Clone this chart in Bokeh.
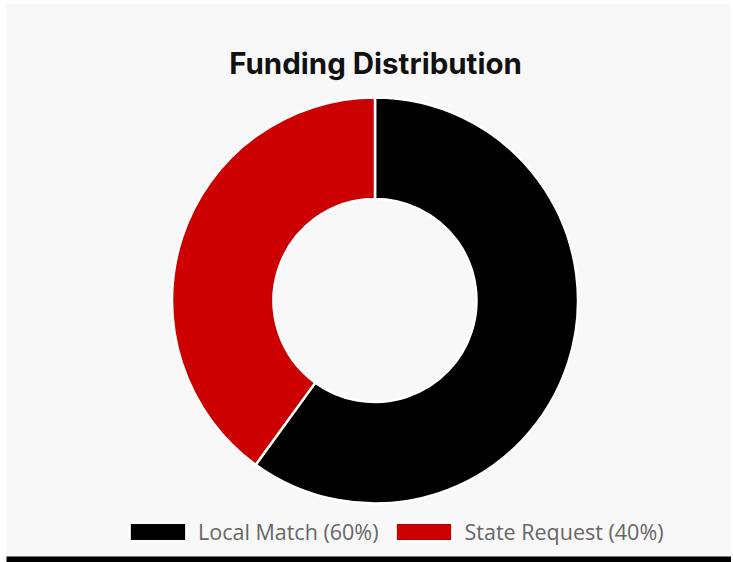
from math import pi
from bokeh.plotting import figure
from bokeh.models import ColumnDataSource, Legend, LegendItem, BoxAnnotation, Range1d
from bokeh.core.properties import value
from bokeh.embed import file_html
from bokeh.resources import INLINE

# ---- data ----
categories = ["Local Match", "State Request"]
amounts = [60, 40]
colors = ["#000000", "#cc0000"]
title_text = "Funding Distribution"

# ---- layout ----
W, H = 731, 562
BG = "#f8f8f8"
cx, cy = 374.5, H - 300        # donut centre (figure px)
r_out, r_in = 203, 101.5

total = float(sum(amounts))
fracs = [a / total for a in amounts]
starts, ends = [], []
ang = pi / 2
for f in fracs:
    starts.append(ang)
    ang = ang - f * 2 * pi
    ends.append(ang)
labels = [f"{c} ({round(f * 100)}%)" for c, f in zip(categories, fracs)]

src = ColumnDataSource(dict(cat=categories, val=amounts, start=starts, end=ends,
                            color=colors, label=labels,
                            x=[cx] * len(categories), y=[cy] * len(categories)))

p = figure(width=W, height=H, output_backend="svg", toolbar_location=None,
           x_range=Range1d(0, W), y_range=Range1d(0, H), min_border=0)
p.axis.visible = False
p.grid.visible = False
p.outline_line_color = None
p.background_fill_color = "white"
p.border_fill_color = "white"

# panel background and bottom black rule
p.add_layout(BoxAnnotation(left=6, right=W, bottom=6, top=H - 3, fill_color=BG,
                           fill_alpha=1, line_color=None, level="underlay"))
p.add_layout(BoxAnnotation(left=6, right=W, bottom=0, top=6, fill_color="black",
                           fill_alpha=1, line_color=None, level="underlay"))

r = p.annular_wedge(x="x", y="y", inner_radius=r_in, outer_radius=r_out,
                    start_angle="start", end_angle="end", direction="clock",
                    fill_color="color", line_color="white", line_width=2.5, source=src)

p.text(x=[375], y=[H - 62], text=[title_text], text_font=value("Inter"),
       text_font_style="bold", text_font_size="29.5px", text_color="#111111",
       text_align="center", text_baseline="alphabetic")

items = [LegendItem(label=lab, renderers=[r], index=i) for i, lab in enumerate(labels)]
legend = Legend(items=items, orientation="horizontal", location=(122, 16),
                glyph_width=71, glyph_height=23, label_standoff=5, spacing=10,
                padding=0, margin=0, background_fill_alpha=0, border_line_color=None,
                label_text_font="Open Sans", label_text_font_size="21.5px",
                label_text_color="#666666")
p.add_layout(legend, "center")

open("out.html", "w").write(file_html(p, INLINE))
